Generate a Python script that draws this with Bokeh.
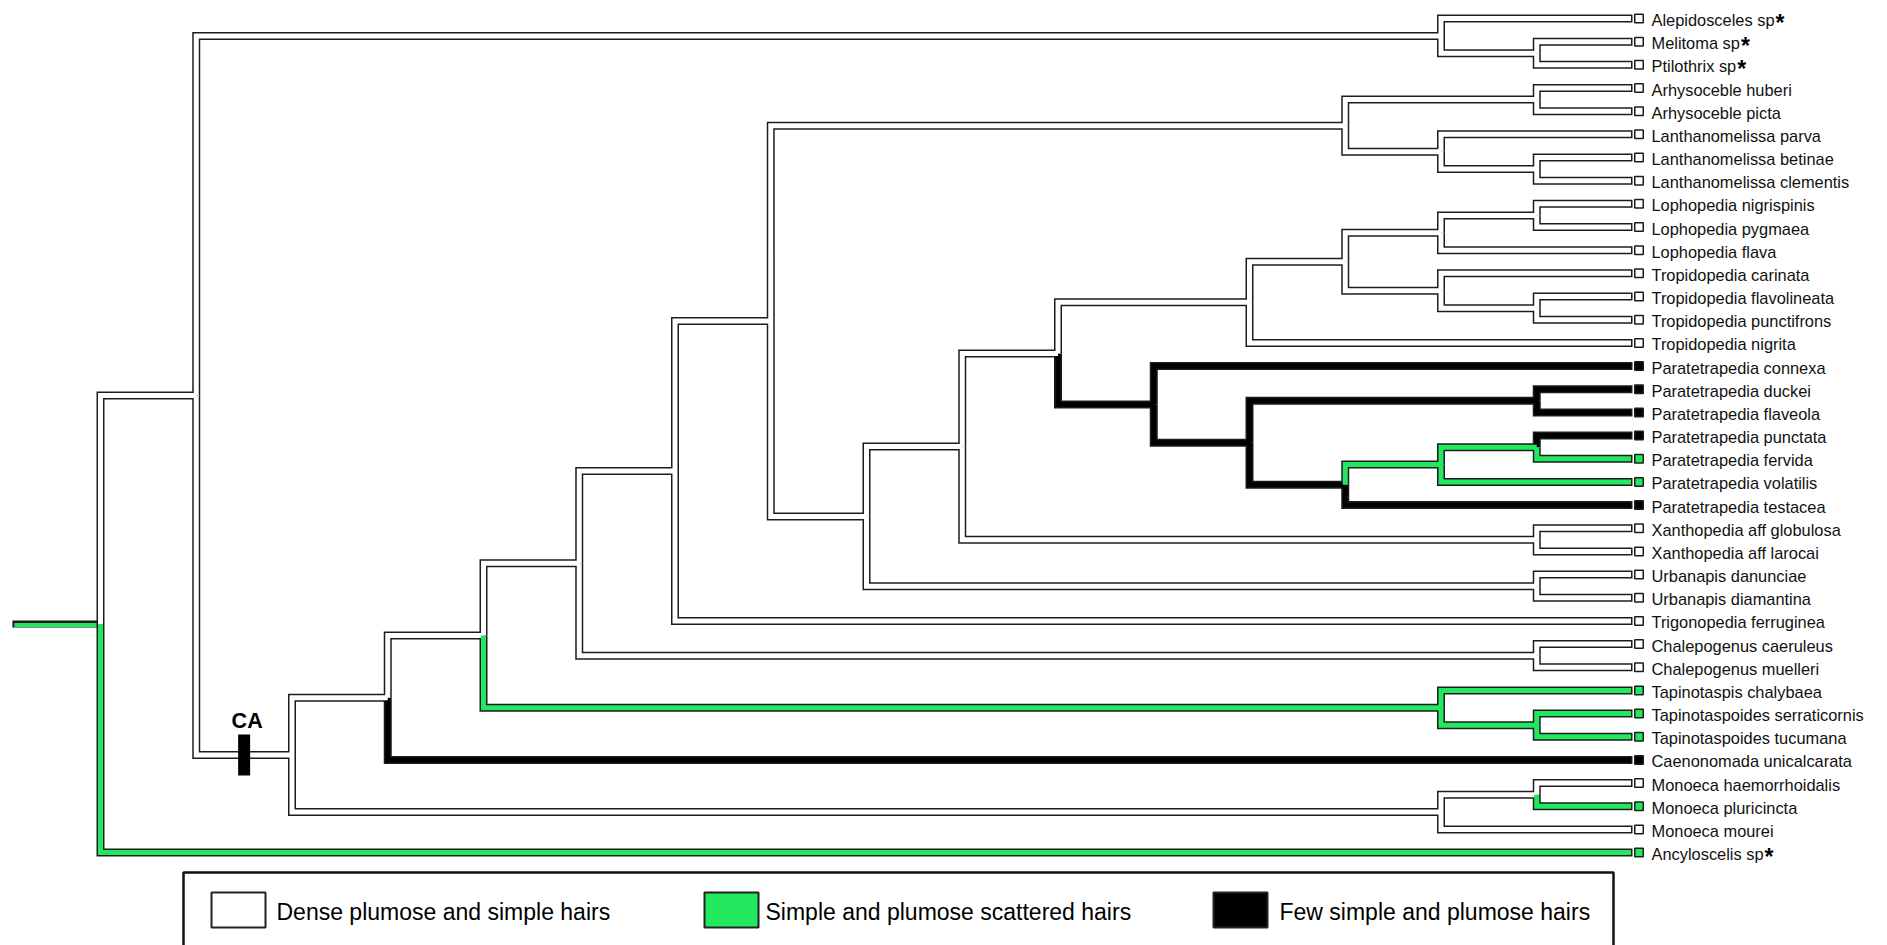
from bokeh.plotting import figure
from bokeh.models import Range1d
from bokeh.embed import file_html
from bokeh.resources import INLINE
from bokeh.core.properties import value

# ---------------- data ----------------
taxa = ["Alepidosceles sp", "Melitoma sp", "Ptilothrix sp", "Arhysoceble huberi",
        "Arhysoceble picta", "Lanthanomelissa parva", "Lanthanomelissa betinae",
        "Lanthanomelissa clementis", "Lophopedia nigrispinis", "Lophopedia pygmaea",
        "Lophopedia flava", "Tropidopedia carinata", "Tropidopedia flavolineata",
        "Tropidopedia punctifrons", "Tropidopedia nigrita", "Paratetrapedia connexa",
        "Paratetrapedia duckei", "Paratetrapedia flaveola", "Paratetrapedia punctata",
        "Paratetrapedia fervida", "Paratetrapedia volatilis", "Paratetrapedia testacea",
        "Xanthopedia aff globulosa", "Xanthopedia aff larocai", "Urbanapis danunciae",
        "Urbanapis diamantina", "Trigonopedia ferruginea", "Chalepogenus caeruleus",
        "Chalepogenus muelleri", "Tapinotaspis chalybaea", "Tapinotaspoides serraticornis",
        "Tapinotaspoides tucumana", "Caenonomada unicalcarata", "Monoeca haemorrhoidalis",
        "Monoeca pluricincta", "Monoeca mourei", "Ancyloscelis sp"]
tip_star = [1, 1, 1] + [0] * 33 + [1]
tip_parent = ["alep", "mel_pti", "mel_pti", "arh", "arh", "lanth", "lanth_bc", "lanth_bc",
              "loph_np", "loph_np", "loph", "trop", "trop_fp", "trop_fp", "n13w",
              "n12", "para_df", "para_df", "para_pf", "para_pf", "para_g", "n14",
              "xanth", "xanth", "urb", "urb", "n7", "chal", "chal", "tap", "tap_st",
              "tap_st", "n4", "mon_hp", "mon_hp", "mon", "root"]
# W = dense plumose & simple, G = simple & plumose scattered, B = few simple & plumose
tip_state = ["W"] * 15 + ["B", "B", "B", "B", "G", "G", "B"] + ["W"] * 7 + \
            ["G", "G", "G", "B", "W", "G", "W", "G"]

node_id = ["root", "upper", "alep", "mel_pti", "ca", "n4", "n5", "n6", "n7", "n8",
           "arhlan", "arh", "lanth", "lanth_bc", "n9", "n10", "n11", "n13w", "lophtrop",
           "loph", "loph_np", "trop", "trop_fp", "n12", "n13b", "para_df", "n14",
           "para_g", "para_pf", "xanth", "urb", "chal", "tap", "tap_st", "mon", "mon_hp"]
node_parent = [None, "root", "upper", "alep", "upper", "ca", "n4", "n5", "n6", "n7",
               "n8", "arhlan", "arhlan", "lanth", "n8", "n9", "n10", "n11", "n13w",
               "lophtrop", "loph", "lophtrop", "trop", "n11", "n12", "n13b", "n13b",
               "n14", "para_g", "n10", "n9", "n6", "n5", "tap", "ca", "mon"]
node_level = [1, 2, 15, 16, 3, 4, 5, 6, 7, 8,
              14, 16, 15, 16, 9, 10, 11, 13, 14,
              15, 16, 15, 16, 12, 13, 16, 14,
              15, 16, 16, 16, 16, 15, 16, 15, 16]
node_state = ["G", "W", "W", "W", "W", "W", "W", "W", "W", "W",
              "W", "W", "W", "W", "W", "W", "W", "W", "W",
              "W", "W", "W", "W", "B", "B", "B", "B",
              "G", "G", "W", "W", "W", "G", "G", "W", "W"]
TIP_LEVEL = 17
STEM_START = 0.08

legend_labels = ["Dense plumose and simple hairs", "Simple and plumose scattered hairs",
                 "Few simple and plumose hairs"]
legend_states = ["W", "G", "B"]

# ---------------- layout ----------------
W, H = 1887, 945
sx, sy = 95.75, 23.17
x0 = 1 - 100 / sx
x1 = x0 + W / sx
y_top = 0 - 18.0 / sy
y_bot = y_top + H / sy


def X(px):
    return x0 + px / sx


def Y(py):
    return y_top + py / sy


FILL = {"W": "#ffffff", "G": "#22e860", "B": "#000000"}
OUT = "#1c1c1c"

# ---------------- tree geometry ----------------
lvl = dict(zip(node_id, node_level))
par = dict(zip(node_id, node_parent))
st = dict(zip(node_id, node_state))
children = {n: [] for n in node_id}
for n in node_id:
    if par[n] is not None:
        children[par[n]].append(("node", n))
for i, pn in enumerate(tip_parent):
    children[pn].append(("tip", i))

ypos = {}


def node_y(n):
    if n in ypos:
        return ypos[n]
    ys = []
    for kind, c in children[n]:
        ys.append(float(c) if kind == "tip" else node_y(c))
    ypos[n] = (min(ys) + max(ys)) / 2
    return ypos[n]


for n in node_id:
    node_y(n)

branches = []  # (xs, ys, state, is_tip)
for n in node_id:
    p_ = par[n]
    if p_ is None:
        continue
    branches.append(([lvl[p_], lvl[p_], lvl[n]], [ypos[p_], ypos[n], ypos[n]], st[n], False))
for i, pn in enumerate(tip_parent):
    branches.append(([lvl[pn], lvl[pn], TIP_LEVEL], [ypos[pn], i, i], tip_state[i], True))

p = figure(width=W, height=H, output_backend="svg", toolbar_location=None,
           x_range=Range1d(x0, x1), y_range=Range1d(y_bot, y_top),
           min_border=0, x_axis_type=None, y_axis_type=None)
p.grid.visible = False
p.outline_line_color = None
p.background_fill_color = "white"
p.border_fill_color = "white"

# root stem
ry = ypos["root"]
p.line([STEM_START, 1], [ry, ry], line_color=OUT, line_width=7, line_cap="butt")
p.line([STEM_START + 2 / sx, 1], [ry + 1 / sy, ry + 1 / sy], line_color=FILL["G"],
       line_width=4, line_cap="butt")

# outlines
p.multi_line([b[0] for b in branches], [b[1] for b in branches], line_color=OUT,
             line_width=8, line_join="miter", line_cap="butt")
# fills
for s in ["B", "W", "G"]:
    xs, ys = [], []
    for bx, by, bs, tip in branches:
        if bs != s:
            continue
        bx = list(bx)
        if tip:
            bx[-1] = bx[-1] - 1.5 / sx
        xs.append(bx)
        ys.append(by)
    p.multi_line(xs, ys, line_color=FILL[s], line_width=5, line_join="miter",
                 line_cap="butt")

# tip squares
tips_y = list(range(len(taxa)))
p.scatter([TIP_LEVEL + 6.5 / sx] * len(taxa), tips_y, marker="square", size=8.5,
          fill_color=[FILL[s] for s in tip_state], line_color=OUT, line_width=1.5)

# labels
FS = 16.4
p.text([TIP_LEVEL + 19 / sx] * len(taxa), [i + 1.5 / sy for i in tips_y], text=taxa,
       text_font=value("Liberation Sans"), text_font_size=f"{FS}px",
       text_baseline="middle", text_align="left", text_color="#111111")

AW = {"A": 667, "l": 222, "e": 556, "p": 556, "i": 222, "d": 556, "o": 556, "s": 500,
      "c": 500, " ": 278, "M": 833, "t": 278, "m": 833, "a": 556, "P": 667, "h": 556,
      "r": 333, "x": 500, "n": 556, "y": 500}
sxs, sys_ = [], []
for i, t in enumerate(taxa):
    if tip_star[i]:
        wpx = sum(AW.get(ch, 556) for ch in t) / 1000 * FS
        sxs.append(TIP_LEVEL + (19 + wpx + 1) / sx)
        sys_.append(i + 4.5 / sy)
p.text(sxs, sys_, text=["*"] * len(sxs), text_font=value("Liberation Sans"),
       text_font_size="23px", text_font_style="bold", text_baseline="middle",
       text_align="left", text_color="#000000")

# CA marker
ca_x = (lvl["upper"] + lvl["ca"]) / 2
p.rect([ca_x], [ypos["ca"]], width=12, height=41, width_units="screen",
       height_units="screen", fill_color="black", line_color=None)
p.text([ca_x + 3 / sx], [ypos["ca"] - 34 / sy], text=["CA"],
       text_font=value("Liberation Sans"), text_font_size="21.5px",
       text_font_style="bold", text_align="center", text_baseline="middle",
       text_color="black")

# legend
p.quad(left=[X(183)], right=[X(1613)], top=[Y(872)], bottom=[Y(1000)],
       fill_color=None, line_color="#111111", line_width=2.5)
sw_left = [211, 704, 1213]
txt_left = [276, 765, 1279]
for k in range(3):
    p.quad(left=[X(sw_left[k])], right=[X(sw_left[k] + 54)], top=[Y(892)],
           bottom=[Y(927)], fill_color=FILL[legend_states[k]], line_color="#222222",
           line_width=2)
p.text([X(v) for v in txt_left], [Y(911)] * 3, text=legend_labels,
       text_font=value("Liberation Sans"), text_font_size="23px",
       text_baseline="middle", text_align="left", text_color="#000000")

open("out.html", "w").write(file_html(p, INLINE))
